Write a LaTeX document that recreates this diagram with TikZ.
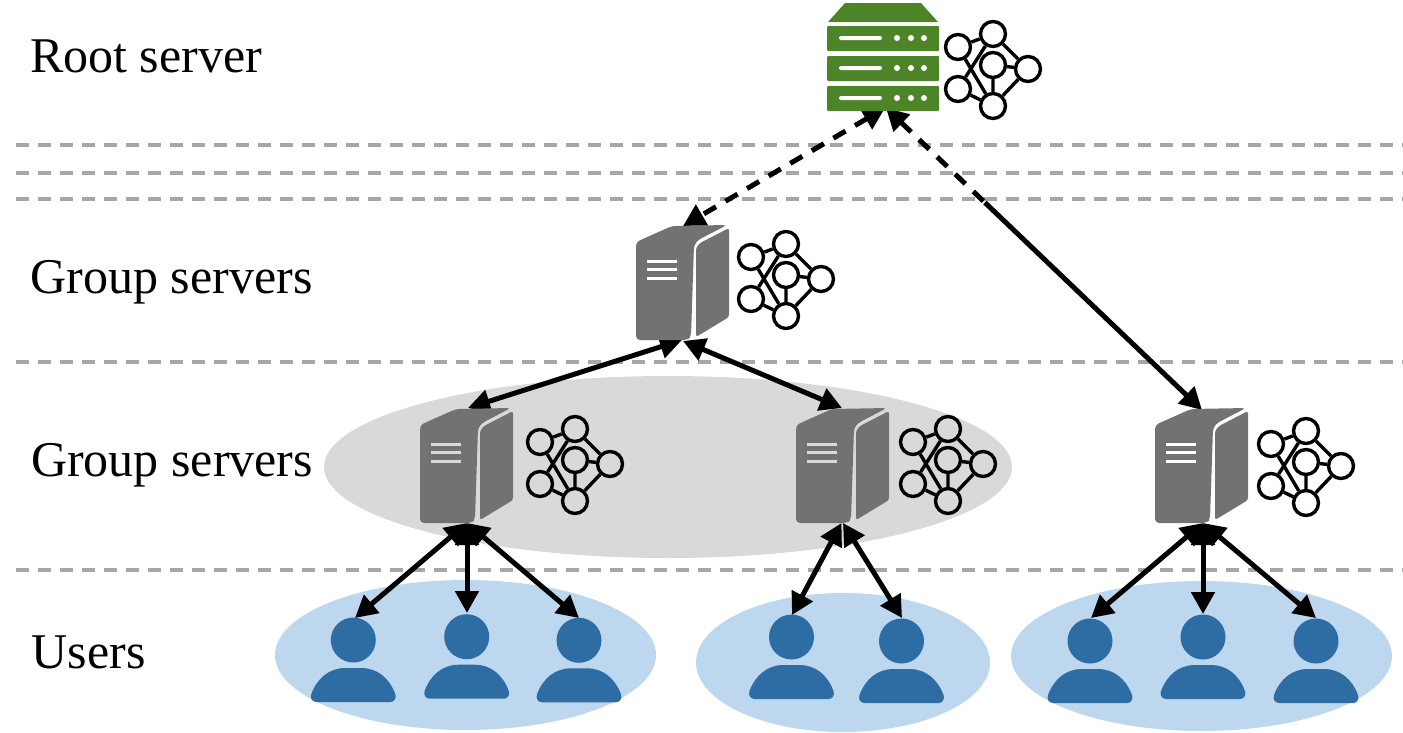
\documentclass[tikz,border=0pt]{standalone}
\usepackage{fontspec}
\setmainfont{Liberation Serif}
\usetikzlibrary{arrows.meta,calc}
\definecolor{srvgreen}{HTML}{4E8428}
\definecolor{srvgrey}{HTML}{727272}
\definecolor{usrblue}{HTML}{2E6CA4}
\definecolor{usrbg}{HTML}{BDD7EE}
\definecolor{grpbg}{HTML}{D9D9D9}
\definecolor{sep}{HTML}{A6A6A6}
\tikzset{
  x=1pt,y=-1pt,
  label text/.style={anchor=base west,inner sep=0pt,font=\fontsize{50}{55}\selectfont},
  sepline/.style={sep,line width=3.2pt,dash pattern=on 13pt off 9pt},
  link/.style={line width=5pt,{Triangle[length=22pt,width=23pt]}-{Triangle[length=22pt,width=23pt]}},
  linkstart/.style={line width=5pt,{Triangle[length=22pt,width=23pt]}-},
  linkend/.style={line width=5pt,-{Triangle[length=22pt,width=23pt]}},
  dashlink/.style={dash pattern=on 14pt off 11pt},
  nnode/.style={circle,draw=black,line width=3.4pt,minimum size=25pt,inner sep=0pt},
  nedge/.style={black,line width=3.4pt},
  pics/nn/.style={code={
    \node[nnode] (a) at (12,25) {};
    \node[nnode] (b) at (47,12) {};
    \node[nnode] (c) at (47,43) {};
    \node[nnode] (d) at (12,67) {};
    \node[nnode] (e) at (82,47) {};
    \node[nnode] (f) at (47,84) {};
    \draw[nedge] (a)--(b) (a)--(f) (b)--(d) (b)--(e) (c)--(e) (c)--(f) (d)--(f) (e)--(f);
  }},
  pics/tower/.style={code={
    \fill[srvgrey,rounded corners=4pt] (0,18)--(36,2)--(91,1)--(62,16)--(58,21)--(55,112)--(52,116)--(0,116)--cycle;
    \fill[srvgrey,rounded corners=2.5pt] (60,24)--(64,19)--(93,4)--(93,93)--(60,113)--cycle;
    \fill[#1] (11,36) rectangle (41,39);
    \fill[#1] (11,44) rectangle (41,47);
    \fill[#1] (11,53) rectangle (41,56);
  }},
  pics/person/.style={code={
    \fill[usrblue] (0,0) circle[radius=22.5pt];
    \fill[usrblue] (-37,62) .. controls (-41,62) and (-43.5,58) .. (-42,54) .. controls (-36,38) and (-24,28) .. (-8,28) -- (8,28) .. controls (24,28) and (36,38) .. (42,54) .. controls (43.5,58) and (41,62) .. (37,62) -- cycle;
  }},
  bar/.pic={
    \fill[srvgreen,rounded corners=1pt] (0,0) rectangle (112,25);
    \fill[white,rounded corners=2pt] (12,10) rectangle (55,14);
    \fill[white] (70,12) circle[radius=3pt] (84,12) circle[radius=3pt] (97,12) circle[radius=3pt];
  },
}
\begin{document}
\begin{tikzpicture}
\useasboundingbox (0,0) rectangle (1403,732);
% backgrounds
\fill[grpbg] (668,467) ellipse[x radius=344pt,y radius=91pt];
\fill[usrbg] (465.5,655) ellipse[x radius=190.5pt,y radius=75pt];
\fill[usrbg] (843,662.5) ellipse[x radius=147pt,y radius=69.5pt];
\fill[usrbg] (1201.5,656) ellipse[x radius=190.5pt,y radius=75pt];
% level separators
\foreach \yy in {145,173,199,362,570}
  \draw[sepline] (16,\yy) -- (1403,\yy);
% labels
\node[label text] (lroot) at (30,72) {Root server};
\node[label text] (lgroupa) at (30.5,293) {Group servers};
\node[label text] (lgroupb) at (31,476) {Group servers};
\node[label text] (lusers) at (31.5,668) {Users};
% connector ends
\coordinate (rootL) at (885,108);
\coordinate (rootR) at (886,108);
\coordinate (midT) at (683,226);
\coordinate (midBL) at (682,340);
\coordinate (midBR) at (683,341);
\coordinate (g1T) at (468,408);
\coordinate (g2T) at (842,408);
\coordinate (g3T) at (1202,410);
\coordinate (g1B) at (467,523);
\coordinate (g2Ba) at (841.5,523);
\coordinate (g2Bb) at (843,523);
\coordinate (g3B) at (1203,523);
\coordinate (u1T) at (355,618);
\coordinate (u2T) at (467,613);
\coordinate (u3T) at (579,618);
\coordinate (u4T) at (792,615);
\coordinate (u5T) at (902,618);
\coordinate (u6T) at (1091,618);
\coordinate (u7T) at (1203,614);
\coordinate (u8T) at (1316,618);
\coordinate (split) at ($(rootR)!0.313!(g3T)$);
% connectors
\draw[link,dashlink] (rootL) -- (midT);
\draw[linkstart,dashlink] (rootR) -- (split);
\draw[linkend] (split) -- (g3T);
\draw[link] (midBL) -- (g1T);
\draw[link] (midBR) -- (g2T);
\draw[link] (g1B) -- (u1T);
\draw[link] (g1B) -- (u2T);
\draw[link] (g1B) -- (u3T);
\draw[link] (g2Ba) -- (u4T);
\draw[link] (g2Bb) -- (u5T);
\draw[link] (g3B) -- (u6T);
\draw[link] (g3B) -- (u7T);
\draw[link] (g3B) -- (u8T);
% root server
\fill[srvgreen,rounded corners=0.5pt] (845,3)--(921,3)--(938,22)--(828,22)--cycle;
\pic at (827,26) {bar};
\pic at (827,56) {bar};
\pic at (827,86) {bar};
% towers
\pic at (636,224) {tower=white};
\pic at (420,407) {tower=grpbg};
\pic at (796,407) {tower=grpbg};
\pic at (1155,407) {tower=white};
% networks
\pic (nr) at (946,22) {nn};
\pic (nm) at (739,232) {nn};
\pic (na) at (528,417) {nn};
\pic (nb) at (901,417) {nn};
\pic (nc) at (1259,419) {nn};
% users
\pic at (353.3,640) {person};
\pic at (466.7,636.7) {person};
\pic at (579,640.3) {person};
\pic at (791.5,637) {person};
\pic at (901.5,641) {person};
\pic at (1090,641) {person};
\pic at (1203,637) {person};
\pic at (1316,641) {person};
\end{tikzpicture}
\end{document}
